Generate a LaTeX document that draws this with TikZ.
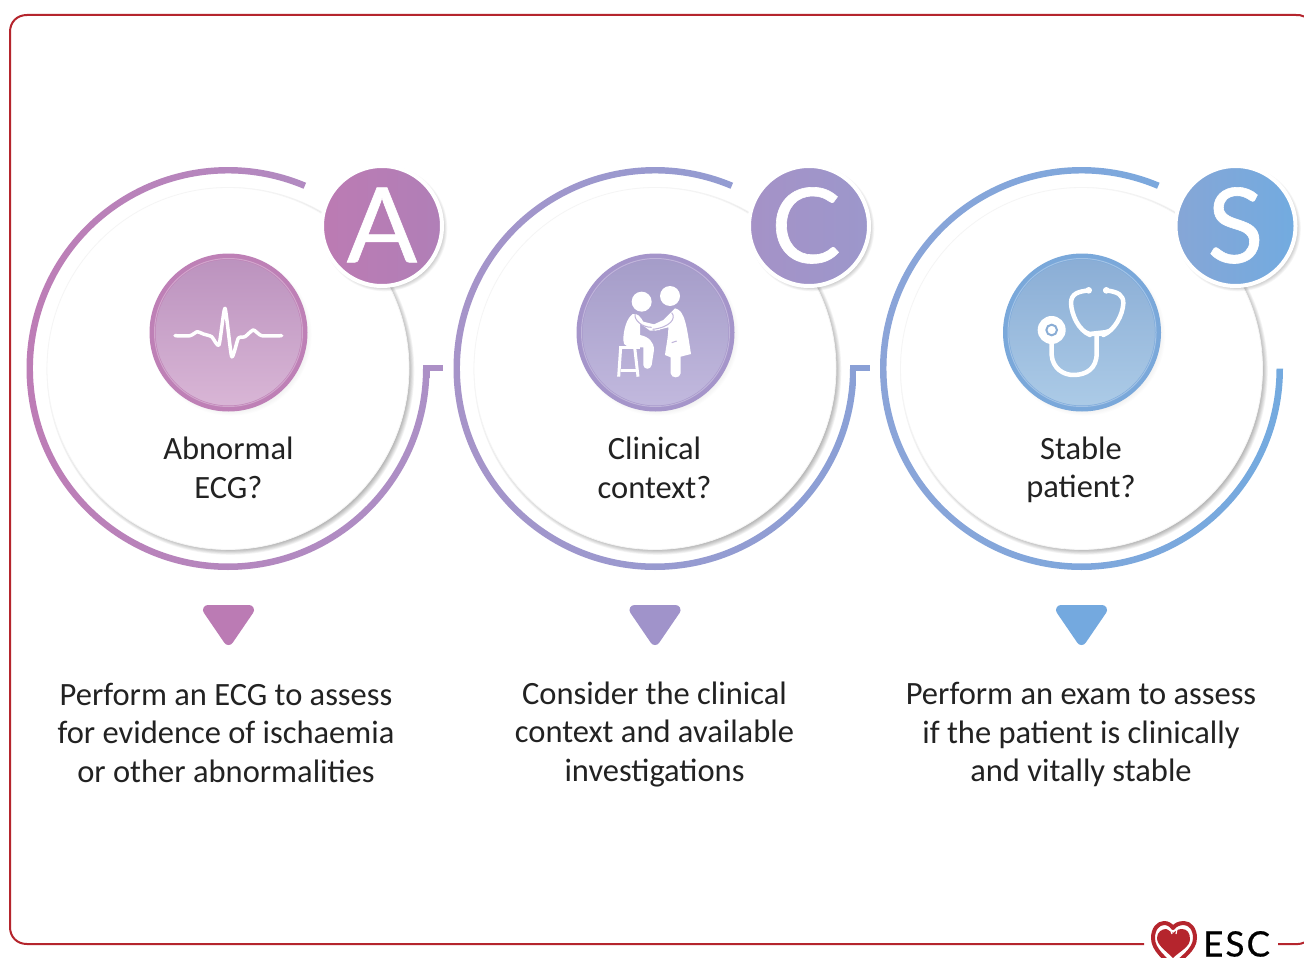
\documentclass[tikz,border=0pt]{standalone}
\usepackage{fontspec}
\setmainfont{Carlito}
\newfontfamily\badgefont[FakeBold=0.6]{Lato}
\newfontfamily\logofont[LetterSpace=6,FakeBold=0.5]{Lato}
\usetikzlibrary{shadings}
\definecolor{frameRed}{HTML}{B5252D}
\definecolor{textDark}{HTML}{222222}
\definecolor{ringLA}{HTML}{BE7CB5}\definecolor{ringRA}{HTML}{AC90C6}
\definecolor{ringLC}{HTML}{A893C8}\definecolor{ringRC}{HTML}{8AA0D6}
\definecolor{ringLS}{HTML}{8CA4D8}\definecolor{ringRS}{HTML}{74AADF}
\definecolor{badgeLA}{HTML}{BC7BB3}\definecolor{badgeRA}{HTML}{B07FB7}
\definecolor{badgeLC}{HTML}{A592C7}\definecolor{badgeRC}{HTML}{9C97CB}
\definecolor{badgeLS}{HTML}{86A6D6}\definecolor{badgeRS}{HTML}{72ABE0}
\definecolor{iconRingA}{HTML}{BE80B6}\definecolor{iconRingC}{HTML}{A595CA}\definecolor{iconRingS}{HTML}{7AA8DA}
\definecolor{iconTopA}{HTML}{BB92BE}\definecolor{iconBotA}{HTML}{D9B6D6}
\definecolor{iconTopC}{HTML}{A49CC8}\definecolor{iconBotC}{HTML}{C2B9DE}
\definecolor{iconTopS}{HTML}{8AADD5}\definecolor{iconBotS}{HTML}{ACCBE7}
\definecolor{triA}{HTML}{BB7BB4}\definecolor{triC}{HTML}{A093CA}\definecolor{triS}{HTML}{74A9DF}
\tikzset{
  x=1pt,y=-1pt,
  innerdisc/.style={circle,fill=white,draw=black!4,line width=.8pt,minimum size=362pt,inner sep=0pt},
  icondisc/.style={circle,minimum size=152pt,inner sep=0pt,line width=6pt},
  iconline/.style={circle,draw=white,draw opacity=.3,line width=1pt,minimum size=148pt,inner sep=0pt},
  badgedisc/.style={circle,draw=white,line width=4pt,minimum size=120pt,inner sep=0pt,text=white,font=\badgefont\fontsize{104}{104}\selectfont},
  title/.style={align=center,text=textDark,font=\fontsize{32.5}{38.5}\selectfont},
  body/.style={align=center,text=textDark,font=\fontsize{32.5}{38.5}\selectfont},
  glyph/.style={draw=white,line width=4.5pt,line cap=round,line join=round},
  tri/.style={line width=10pt,line join=round},
  framepen/.style={draw=frameRed,line width=2pt}
}
\newcommand{\softhalo}[4]{%
  \foreach \k in {0,...,6}{\fill[black,opacity=#4] (#1+2.5,#2+2.5) circle ({#3+\k*.8-2});}}
\newcommand{\column}[4]{% cx, suffix, letter, letter kern
  \shade[left color=ringL#2,right color=ringR#2]
    (#1,368.5) ++(0:201.5) arc[start angle=0,end angle=292.8,radius=201.5]
    -- ++(292.8:-6.5) arc[start angle=292.8,end angle=0,radius=195] -- cycle;
  \softhalo{#1}{368.5}{181}{.045}
  \node[innerdisc] (inner#2) at (#1,368.5) {};
  \softhalo{#1+.5}{332.5}{78}{.008}
  \node[icondisc,draw=iconRing#2,top color=iconTop#2,bottom color=iconBot#2] (icon#2) at (#1+.5,332.5) {};
  \node[iconline] (iconrim#2) at (#1+.5,332.5) {};
  \softhalo{#1+154}{226}{60}{.035}
  \node[badgedisc,left color=badgeL#2,right color=badgeR#2] (badge#2) at (#1+154,226) {\raisebox{2pt}{\hspace*{#4}#3}};
}
\begin{document}
\begin{tikzpicture}
\useasboundingbox (0,0) rectangle (1304,958);
\fill[white] (0,0) rectangle (1304,958);
% frame
\draw[framepen] (1304,16.5) .. controls (1301,15) and (1299,15) .. (1296,15) -- (27,15)
  .. controls (17,15) and (10,22) .. (10,32) -- (10,927)
  .. controls (10,937) and (17,944) .. (27,944) -- (1144,944);
\draw[framepen] (1278,944) -- (1298,944) .. controls (1300,944) and (1302,943.5) .. (1304,942.5);
% ticks
\fill[ringRA] (423,365) rectangle (443,371);
\fill[ringRC] (850,365) rectangle (870,371);
% columns
\column{228}{A}{A}{0pt}
\column{655}{C}{C}{-6pt}
\column{1081.5}{S}{S}{0pt}
% titles
\node[title] (tA) at (228.5,468) {Abnormal\\ECG?};
\node[title] (tC) at (654.5,468) {Clinical\\context?};
\node[title] (tS) at (1081,470) {Stable\\patient?};
% triangles
\filldraw[tri,draw=triA,fill=triA] (208,610) -- (249,610) -- (228.5,640) -- cycle;
\filldraw[tri,draw=triC,fill=triC] (634.5,610) -- (675.5,610) -- (655,640) -- cycle;
\filldraw[tri,draw=triS,fill=triS] (1061,610) -- (1102,610) -- (1081.5,640) -- cycle;
% bodies
\node[body] (bA) at (226,732.5) {Perform an ECG to assess\\for evidence of ischaemia\\or other abnormalities};
\node[body] (bC) at (654.5,734.5) {Consider the clinical\\context and available\\investigations};
\node[body] (bS) at (1081,734.5) {Perform an exam to assess\\if the patient is clinically\\and vitally stable};
% ECG trace
\draw[glyph,line width=3.5pt] plot[smooth,tension=.35] coordinates {(175,335.7) (190,335.7) (197.3,331.7) (203.3,334) (211.7,336.7) (219,345) (225,308.3) (231.7,356.7) (238.3,338.3) (245,336.7) (253.3,330) (261.7,335.7) (281.7,335.7)};
% patient and doctor
\begin{scope}[shift={(560,240)},xscale=1/3,yscale=1/3]
  \fill[white] (245,185) circle (30);
  \fill[white] (330,168) circle (30);
  \fill[white] (218,222) .. controls (200,235) and (190,270) .. (190,300)
     .. controls (190,320) and (200,322) .. (250,322) -- (250,375)
     .. controls (252,390) and (272,390) .. (275,375) -- (282,330)
     .. controls (282,305) and (265,290) .. (240,285) -- (240,250) -- (270,272) -- (300,270) -- (290,255) -- (250,245) .. controls (240,228) and (232,220) .. (218,222) -- cycle;
  \fill[white] (345,205) .. controls (375,210) and (380,260) .. (393,342)
     -- (362,350) -- (362,400) .. controls (360,416) and (334,416) .. (332,400) -- (332,352) -- (315,345)
     .. controls (318,320) and (325,290) .. (325,262) -- (285,272) -- (278,255) -- (310,240) -- (335,215) -- cycle;
  \draw[iconRingC!70!white,line width=1pt] (225,222) .. controls (222,240) and (245,262) .. (275,262);
  \draw[iconRingC!70!white,line width=1pt] (335,218) .. controls (350,235) and (330,262) .. (278,268);
  \draw[iconRingC!70!white,line width=1pt] (335,308) -- (350,303);
  \draw[draw=white,line width=3pt,line join=round] (178,322) -- (240,322);
  \draw[draw=white,line width=3pt] (182,322) -- (176,410);
  \draw[draw=white,line width=3pt] (224,322) -- (234,410);
  \draw[draw=white,line width=3pt] (182,392) -- (230,392);
\end{scope}
% stethoscope
\begin{scope}[shift={(990,240)},xscale=1/3,yscale=1/3]
  \draw[glyph] (296,151) .. controls (265,155) and (243,160) .. (243,190)
     .. controls (245,225) and (265,270) .. (300,285);
  \draw[glyph] (346,151) .. controls (385,155) and (400,165) .. (400,190)
     .. controls (398,225) and (375,270) .. (340,285);
  \fill[white] (296,151) circle (10); \fill[white] (349,151) circle (10);
  \fill[white] (275,265) .. controls (290,298) and (350,298) .. (372,262) -- (345,270) -- (300,275) -- cycle;
  \draw[glyph] (185,300) -- (185,345) .. controls (188,385) and (220,405) .. (250,405)
     .. controls (290,405) and (320,385) .. (320,340) -- (320,290);
  \fill[white] (185,270) circle (42);
  \draw[iconTopS,line width=2pt] (185,270) circle (16);
\end{scope}
% ESC logo
\draw[frameRed,line width=4pt,line join=round] (1173,967) .. controls (1165,958) and (1153,950) .. (1153,938)
   .. controls (1153,929) and (1158,923) .. (1164,923) .. controls (1168,923) and (1171,925) .. (1173,928)
   .. controls (1175,925) and (1179,923) .. (1184,923) .. controls (1190,923) and (1195,929) .. (1195,938)
   .. controls (1195,950) and (1181,958) .. (1173,967);
\fill[frameRed] (1173,958) .. controls (1165,950) and (1157,945) .. (1157,938)
   .. controls (1157,932) and (1162,929) .. (1166,929) .. controls (1170,930) and (1172,932) .. (1173,933)
   .. controls (1175,931) and (1178,929) .. (1182,929) .. controls (1187,929) and (1190,933) .. (1190,939)
   .. controls (1190,947) and (1180,951) .. (1173,958) -- cycle;
\draw[white,line width=1.2pt] (1168,929) .. controls (1170,930) and (1172,931) .. (1172,934);
\draw[white,line width=1.2pt] (1177,929) -- (1176,934);
\node[anchor=base west,inner sep=0pt,font=\logofont\fontsize{35}{35}\selectfont,text=black] (esc) at (1203,956.5) {ESC};
\end{tikzpicture}
\end{document}
